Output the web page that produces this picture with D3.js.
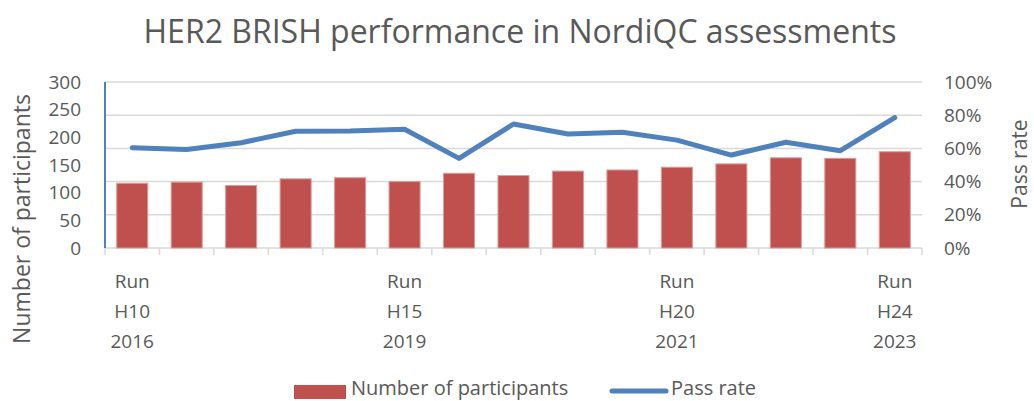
<html>
<head>
    <meta charset="utf-8">
    <script src="https://d3js.org/d3.v7.min.js"></script>
    <style>
        body { margin: 0; background: #fff; }
        svg { font-family: "Open Sans", sans-serif; fill: #595959; }
        .tick-label { font-size: 19px; fill: #595959; }
        .grid line { stroke: #d9d9d9; stroke-width: 1.5; }
    </style>
</head>
<body>
<div id="chart"></div>
<script>
    // runs H10 .. H24
    var runs = ["H10", "H11", "H12", "H13", "H14", "H15", "H16", "H17", "H18", "H19", "H20", "H21", "H22", "H23", "H24"];
    var participants = [117, 119, 113, 125, 127, 120, 135, 131, 139, 141, 146, 152, 163, 162, 174];
    var passRate = [60.4, 59.4, 63.4, 70.3, 70.5, 71.5, 54, 74.7, 68.7, 69.7, 65, 56, 63.7, 58.6, 78.5];
    // only some categories carry a label
    var xLabels = {
        "H10": ["Run", "H10", "2016"],
        "H15": ["Run", "H15", "2019"],
        "H20": ["Run", "H20", "2021"],
        "H24": ["Run", "H24", "2023"]
    };
    var leftTicks = [0, 50, 100, 150, 200, 250, 300];
    var rightTicks = [0, 20, 40, 60, 80, 100];

    var width = 1034, height = 401;
    var plot = {left: 105, right: 922, top: 82, bottom: 248};

    var barColor = "#c0504d";
    var lineColor = "#4f81bd";

    var svg = d3.select("#chart").append("svg")
        .attr("width", width)
        .attr("height", height);

    var x = d3.scaleBand()
        .domain(runs)
        .range([plot.left, plot.right])
        .paddingInner(0.43)
        .paddingOuter(0.215);

    var yLeft = d3.scaleLinear().domain([0, 300]).range([plot.bottom, plot.top]);
    var yRight = d3.scaleLinear().domain([0, 100]).range([plot.bottom, plot.top]);

    // gridlines (follow right axis)
    svg.append("g").attr("class", "grid")
        .selectAll("line")
        .data(rightTicks.slice(1))
        .enter().append("line")
        .attr("x1", plot.left).attr("x2", plot.right)
        .attr("y1", d => yRight(d)).attr("y2", d => yRight(d));

    // bottom axis line + ticks at category boundaries
    var step = (plot.right - plot.left) / runs.length;
    svg.append("line")
        .attr("x1", plot.left).attr("x2", plot.right)
        .attr("y1", plot.bottom).attr("y2", plot.bottom)
        .attr("stroke", "#d9d9d9").attr("stroke-width", 1.5);
    svg.append("g").selectAll("line")
        .data(d3.range(runs.length + 1))
        .enter().append("line")
        .attr("x1", i => plot.left + i * step).attr("x2", i => plot.left + i * step)
        .attr("y1", plot.bottom).attr("y2", plot.bottom + 7)
        .attr("stroke", "#d9d9d9").attr("stroke-width", 1.5);

    // bars
    svg.append("g").selectAll("rect")
        .data(participants)
        .enter().append("rect")
        .attr("x", (d, i) => x(runs[i]))
        .attr("width", x.bandwidth())
        .attr("y", d => yLeft(d))
        .attr("height", d => plot.bottom - yLeft(d))
        .attr("fill", barColor)
        .attr("stroke", "#dc9b99")
        .attr("stroke-width", 1);

    // left axis line (blue)
    svg.append("line")
        .attr("x1", plot.left).attr("x2", plot.left)
        .attr("y1", plot.top).attr("y2", plot.bottom)
        .attr("stroke", lineColor).attr("stroke-width", 2);

    // pass rate line
    var line = d3.line()
        .x((d, i) => x(runs[i]) + x.bandwidth() / 2)
        .y(d => yRight(d));

    svg.append("path")
        .datum(passRate)
        .attr("d", line)
        .attr("fill", "none")
        .attr("stroke", lineColor)
        .attr("stroke-width", 5)
        .attr("stroke-linejoin", "round")
        .attr("stroke-linecap", "round");

    // left tick labels
    svg.append("g").selectAll("text")
        .data(leftTicks)
        .enter().append("text")
        .attr("class", "tick-label")
        .attr("x", 81)
        .attr("y", d => yLeft(d))
        .attr("dy", "0.35em")
        .attr("text-anchor", "end")
        .text(d => d);

    // right tick labels
    svg.append("g").selectAll("text")
        .data(rightTicks)
        .enter().append("text")
        .attr("class", "tick-label")
        .attr("x", 944)
        .attr("y", d => yRight(d))
        .attr("dy", "0.35em")
        .text(d => d + "%");

    // x labels, three lines each
    var xl = svg.append("g").selectAll("text")
        .data(runs.filter(r => xLabels[r]))
        .enter().append("text")
        .attr("class", "tick-label")
        .attr("text-anchor", "middle")
        .attr("x", d => x(d) + x.bandwidth() / 2);
    xl.selectAll("tspan")
        .data(d => xLabels[d].map(t => ({run: d, t: t})))
        .enter().append("tspan")
        .attr("x", d => x(d.run) + x.bandwidth() / 2)
        .attr("y", (d, i) => 288 + i * 30)
        .text(d => d.t);

    // title
    svg.append("text")
        .attr("x", 520)
        .attr("y", 43)
        .attr("text-anchor", "middle")
        .style("font-size", "32px")
        .attr("fill", "#595959")
        .text("HER2 BRISH performance in NordiQC assessments");

    // axis titles
    svg.append("text")
        .attr("transform", "translate(30,219) rotate(-90)")
        .attr("text-anchor", "middle")
        .style("font-size", "23px")
        .attr("fill", "#595959")
        .text("Number of participants");

    svg.append("text")
        .attr("transform", "translate(1027,164) rotate(-90)")
        .attr("text-anchor", "middle")
        .style("font-size", "21px")
        .attr("fill", "#595959")
        .text("Pass rate");

    // legend
    var legend = svg.append("g");
    legend.append("rect")
        .attr("x", 294).attr("y", 385)
        .attr("width", 52).attr("height", 14)
        .attr("fill", barColor);
    legend.append("text")
        .attr("x", 351).attr("y", 395)
        .style("font-size", "20px")
        .attr("fill", "#595959")
        .text("Number of participants");
    legend.append("line")
        .attr("x1", 612).attr("x2", 666)
        .attr("y1", 391).attr("y2", 391)
        .attr("stroke", lineColor).attr("stroke-width", 5)
        .attr("stroke-linecap", "round");
    legend.append("text")
        .attr("x", 671).attr("y", 395)
        .style("font-size", "20px")
        .attr("fill", "#595959")
        .text("Pass rate");
</script>
</body>
</html>
